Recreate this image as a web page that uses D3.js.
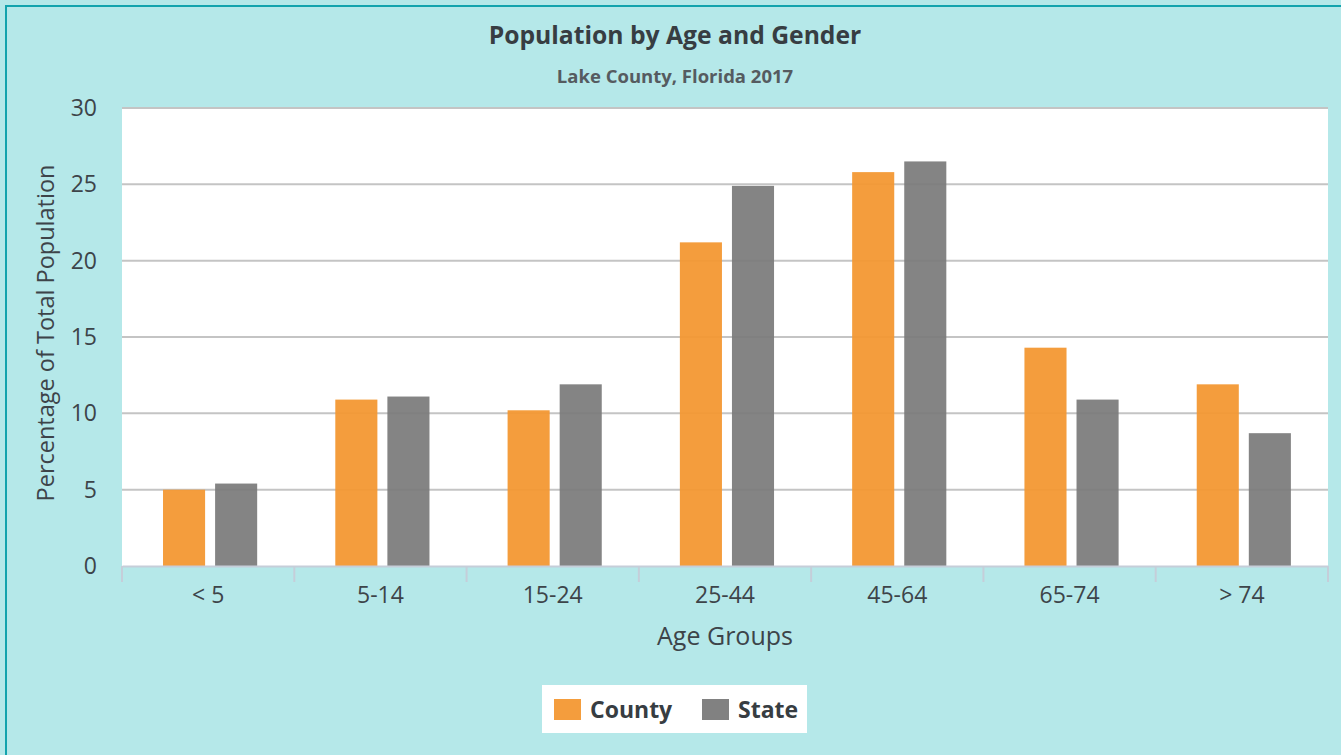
<!DOCTYPE html>
<html><head><meta charset="utf-8">
<script src="https://cdn.jsdelivr.net/npm/d3@7"></script>
<style>
html,body{margin:0;padding:0;background:#b5e8e9;}
svg{display:block;font-family:"Open Sans","Noto Sans",sans-serif;}
</style></head>
<body>
<svg id="c" width="1341" height="755"></svg>
<script>
const categories = ["< 5","5-14","15-24","25-44","45-64","65-74","> 74"];
const countyValues = [5.0,10.9,10.2,21.2,25.8,14.3,11.9];
const stateValues = [5.4,11.1,11.9,24.9,26.5,10.9,8.7];
const seriesNames = ["County","State"];
const yTicks = [0,5,10,15,20,25,30];

const svg = d3.select("#c");
const W=1341,H=755;
svg.append("rect").attr("width",W).attr("height",H).attr("fill","#b5e8e9");
svg.append("line").attr("x1",5).attr("x2",W).attr("y1",6).attr("y2",6).attr("stroke","#13a3ad").attr("stroke-width",2);
svg.append("line").attr("x1",6).attr("x2",6).attr("y1",6).attr("y2",H).attr("stroke","#13a3ad").attr("stroke-width",2);

const L=122,R=1328,T=108,B=566;
const x = d3.scaleBand().domain(categories).range([L,R]);
const y = d3.scaleLinear().domain([0,30]).range([B,T]);
const colors = {County:"#f39833",State:"#7a7a7a"};

svg.append("rect").attr("x",L).attr("y",T).attr("width",R-L).attr("height",B-T).attr("fill","#fff");

// gridlines
svg.append("g").selectAll("line").data(yTicks.filter(d=>d>0)).join("line")
  .attr("x1",L).attr("x2",R).attr("y1",d=>y(d)).attr("y2",d=>y(d))
  .attr("stroke","#c4c4c4").attr("stroke-width",2);

const inner = d3.scaleBand().domain(seriesNames).range([0,x.bandwidth()]).paddingInner(0.192).paddingOuter(0.75).align(0.525);
const data = categories.map((c,i)=>({c, County:countyValues[i], State:stateValues[i]}));
const g = svg.append("g");
seriesNames.forEach(s=>{
  g.selectAll("rect."+s).data(data).join("rect").attr("class",s)
    .attr("x",d=>x(d.c)+inner(s)).attr("width",inner.bandwidth())
    .attr("y",d=>y(d[s])).attr("height",d=>B-y(d[s]))
    .attr("fill",colors[s]).attr("fill-opacity",s==="County"?0.95:0.92);
});

// y axis labels
svg.append("g").selectAll("text").data(yTicks).join("text")
  .attr("x",97).attr("y",d=>y(d)).attr("dy","0.35em").attr("text-anchor","end")
  .attr("font-size",23).attr("fill","#3d4449").text(d=>d);

// x axis
const xa = svg.append("g").attr("transform",`translate(0,${B})`)
  .call(d3.axisBottom(x).tickSize(0).tickPadding(21));
xa.select(".domain").attr("stroke","#c5ced9").attr("stroke-width",2);
xa.selectAll("text").attr("font-size",23).attr("fill","#3d4449").attr("font-family","'Open Sans','Noto Sans',sans-serif").style("white-space","pre");
const bounds = categories.map(c=>x(c)).concat([R]);
svg.append("g").selectAll("line").data(bounds).join("line")
  .attr("x1",d=>d).attr("x2",d=>d).attr("y1",B).attr("y2",B+16)
  .attr("stroke","#c5ced9").attr("stroke-width",2);

// titles
svg.append("text").attr("x",675).attr("y",44).attr("text-anchor","middle")
  .attr("font-size",24.7).attr("font-weight","bold").attr("fill","#373d42").text("Population by Age and Gender");
svg.append("text").attr("x",675).attr("y",83).attr("text-anchor","middle")
  .attr("font-size",18.5).attr("font-weight","bold").attr("fill","#555b60").text("Lake County, Florida 2017");
svg.append("text").attr("x",725).attr("y",645).attr("text-anchor","middle")
  .attr("font-size",25).attr("fill","#3d4449").text("Age Groups");
svg.append("text").attr("transform",`translate(54,333) rotate(-90)`).attr("text-anchor","middle")
  .attr("font-size",23.5).attr("fill","#3d4449").text("Percentage of Total Population");

// legend
svg.append("rect").attr("x",542).attr("y",685).attr("width",265).attr("height",48).attr("fill","#fff");
const lx=[554,702];
seriesNames.forEach((s,i)=>{
  svg.append("rect").attr("x",lx[i]).attr("y",699).attr("width",27).attr("height",21).attr("fill",colors[s]).attr("fill-opacity",0.95);
  svg.append("text").attr("x",lx[i]+36).attr("y",718).attr("font-size",23).attr("font-weight","bold").attr("fill","#373d42").text(s);
});
</script>
</body></html>
